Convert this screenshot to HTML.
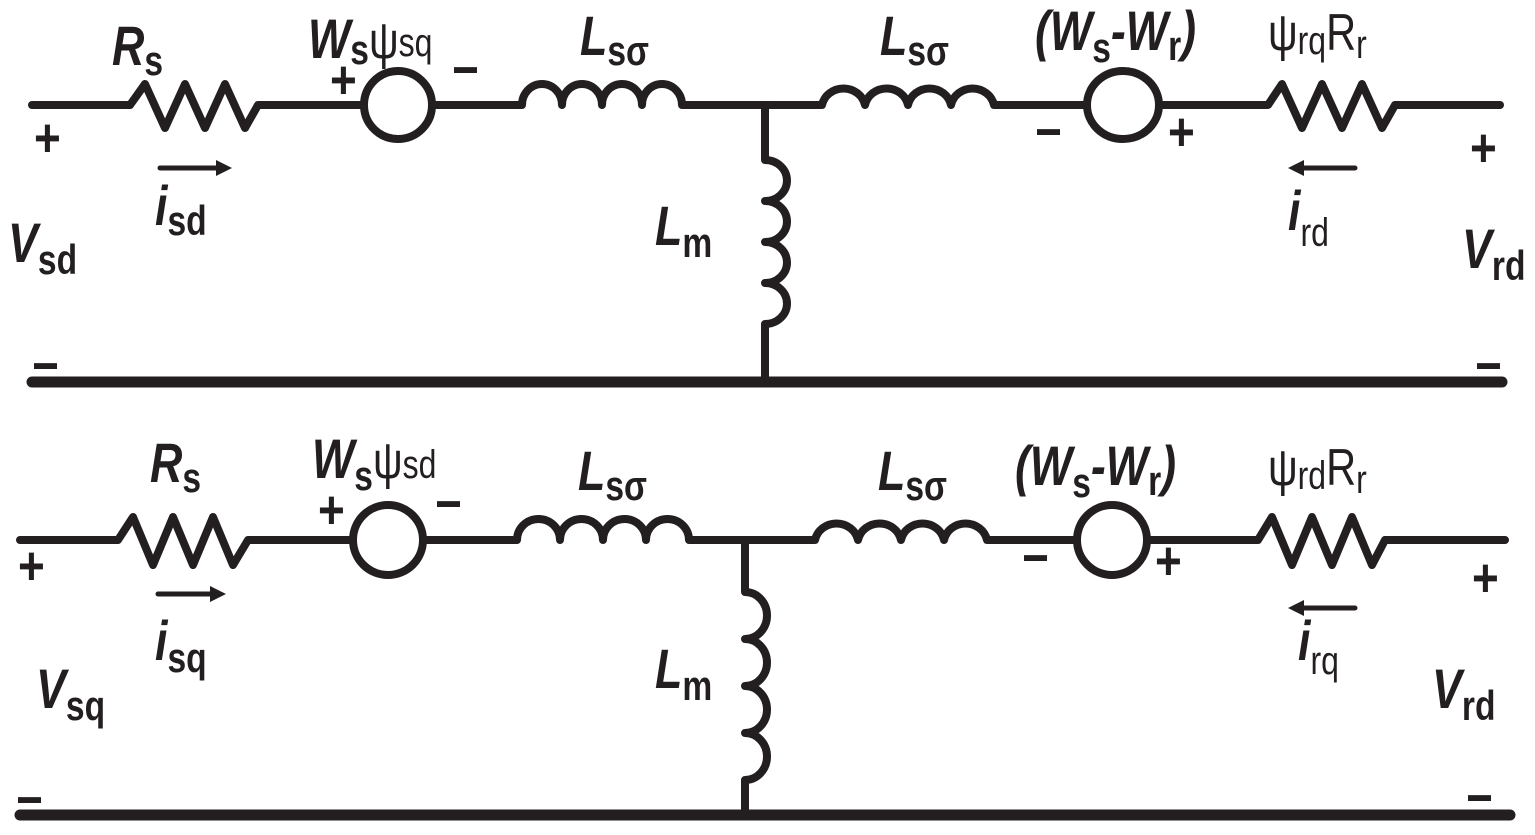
<!DOCTYPE html>
<html><head><meta charset="utf-8"><style>
html,body{margin:0;padding:0;background:#fff;width:1535px;height:835px;overflow:hidden}
svg{display:block}
text{font-family:"Liberation Sans",sans-serif;fill:#231f20}
.b{font-weight:bold;font-style:italic;font-size:56px}
.s{font-weight:bold;font-style:normal;font-size:42px}
.n{font-weight:normal;font-style:normal;font-size:52px}
.ns{font-weight:normal;font-style:normal;font-size:40px}
.p{font-weight:bold;font-size:54px}
</style></head><body>
<svg width="1535" height="835" viewBox="0 0 1535 835" xmlns="http://www.w3.org/2000/svg">
<g fill="none" stroke="#231f20" stroke-width="8" stroke-linejoin="round" stroke-linecap="round">
<path d="M32,105 H130 L145,84 L165,128 L185,84 L205,128 L225,84 L245,128 L258,105 H363"/>
<ellipse cx="398" cy="105" rx="34" ry="34"/>
<path d="M432,105 H522 a20,21 0 0 1 40,0 a20,21 0 0 1 40,0 a20,21 0 0 1 40,0 a20,21 0 0 1 40,0 H822 a22,21 0 0 1 43,0 a22,21 0 0 1 43,0 a22,21 0 0 1 43,0 a22,21 0 0 1 43,0 H1087"/>
<ellipse cx="1123" cy="105" rx="36" ry="34"/>
<path d="M1159,105 H1268 L1282,84 L1302,128 L1322,84 L1342,128 L1362,84 L1382,128 L1395,105 H1500"/>
<path d="M765,105 V160 a22,20.5 0 0 1 0,41 a22,20.5 0 0 1 0,41 a22,20.5 0 0 1 0,41 a22,20.5 0 0 1 0,41 V382"/>
<path d="M32,382 H1502" stroke-width="11"/>
<path d="M160,168 H218" stroke-width="5"/>
<path d="M1300,168 H1355" stroke-width="5"/>
<path d="M20,540 H118 L133,517 L153,565 L173,517 L193,565 L213,517 L233,565 L248,540 H353"/>
<ellipse cx="388" cy="540" rx="35" ry="35"/>
<path d="M423,540 H517 a21.5,21 0 0 1 43,0 a21.5,21 0 0 1 43,0 a21.5,21 0 0 1 43,0 a21.5,21 0 0 1 43,0 H815 a22,21 0 0 1 43,0 a22,21 0 0 1 43,0 a22,21 0 0 1 43,0 a22,21 0 0 1 43,0 H1077"/>
<ellipse cx="1112" cy="540" rx="35" ry="35"/>
<path d="M1147,540 H1258 L1272,517 L1292,565 L1312,517 L1332,565 L1352,517 L1372,565 L1385,540 H1505"/>
<path d="M745,540 V592 a22,23.5 0 0 1 0,47 a22,23.5 0 0 1 0,47 a22,23.5 0 0 1 0,47 a22,23.5 0 0 1 0,47 V815"/>
<path d="M20,815 H1510" stroke-width="11"/>
<path d="M158,594 H212" stroke-width="5"/>
<path d="M1300,608 H1355" stroke-width="5"/>
</g>
<g fill="#231f20">
<polygon points="232,168 216,160 216,176"/>
<polygon points="1288,168 1304,160 1304,176"/>
<polygon points="226,594 210,586 210,602"/>
<polygon points="1288,608 1304,600 1304,616"/>
</g>
<g transform="translate(112,65) scale(.8,1)"><text class="b">R<tspan class="s" dy="10">s</tspan></text></g>
<g transform="translate(308,58) scale(.8,1)"><text class="b">W<tspan class="s" dy="6">s</tspan><tspan class="n" dy="-6" font-size="58">ψ</tspan><tspan class="ns" dy="-2">sq</tspan></text></g>
<g transform="translate(330,98) scale(.85,1)"><text class="p">+</text></g>
<g transform="translate(452,88) scale(.85,1)"><text class="p">−</text></g>
<g transform="translate(580,55) scale(.8,1)"><text class="b">L<tspan class="s" dy="10">sσ</tspan></text></g>
<g transform="translate(880,55) scale(.8,1)"><text class="b">L<tspan class="s" dy="10">sσ</tspan></text></g>
<g transform="translate(1035,50) scale(.8,1)"><text class="b">(W<tspan class="s" dy="12">s</tspan><tspan dy="-12">-W</tspan><tspan class="s" dy="10">r</tspan><tspan dy="-10">)</tspan></text></g>
<g transform="translate(1268,50) scale(.8,1)"><text class="n">ψ<tspan class="ns" dy="4">rq</tspan><tspan dy="-4">R</tspan><tspan class="ns" dy="8">r</tspan></text></g>
<g transform="translate(34,156) scale(.85,1)"><text class="p">+</text></g>
<g transform="translate(155,225) scale(.8,1)"><text class="b">i<tspan class="s" dy="10">sd</tspan></text></g>
<g transform="translate(8,262) scale(.8,1)"><text class="b">V<tspan class="s" dy="12">sd</tspan></text></g>
<g transform="translate(655,245) scale(.8,1)"><text class="b">L<tspan class="s" dy="12">m</tspan></text></g>
<g transform="translate(1035,150) scale(.85,1)"><text class="p">−</text></g>
<g transform="translate(1168,150) scale(.85,1)"><text class="p">+</text></g>
<g transform="translate(1288,230) scale(.8,1)"><text class="b">i<tspan class="ns" dy="16">rd</tspan></text></g>
<g transform="translate(1470,166) scale(.85,1)"><text class="p">+</text></g>
<g transform="translate(1462,268) scale(.8,1)"><text class="b">V<tspan class="s" dy="12">rd</tspan></text></g>
<g transform="translate(32,384) scale(.85,1)"><text class="p">−</text></g>
<g transform="translate(1475,384) scale(.85,1)"><text class="p">−</text></g>
<g transform="translate(150,482) scale(.8,1)"><text class="b">R<tspan class="s" dy="10">s</tspan></text></g>
<g transform="translate(312,478) scale(.8,1)"><text class="b">W<tspan class="s" dy="12">s</tspan><tspan class="n" dy="-12" font-size="58">ψ</tspan><tspan class="ns" dy="0">sd</tspan></text></g>
<g transform="translate(318,528) scale(.85,1)"><text class="p">+</text></g>
<g transform="translate(435,522) scale(.85,1)"><text class="p">−</text></g>
<g transform="translate(578,490) scale(.8,1)"><text class="b">L<tspan class="s" dy="10">sσ</tspan></text></g>
<g transform="translate(878,490) scale(.8,1)"><text class="b">L<tspan class="s" dy="10">sσ</tspan></text></g>
<g transform="translate(1015,485) scale(.8,1)"><text class="b">(W<tspan class="s" dy="12">s</tspan><tspan dy="-12">-W</tspan><tspan class="s" dy="10">r</tspan><tspan dy="-10">)</tspan></text></g>
<g transform="translate(1268,485) scale(.8,1)"><text class="n">ψ<tspan class="ns" dy="4">rd</tspan><tspan dy="-4">R</tspan><tspan class="ns" dy="8">r</tspan></text></g>
<g transform="translate(18,584) scale(.85,1)"><text class="p">+</text></g>
<g transform="translate(155,660) scale(.8,1)"><text class="b">i<tspan class="s" dy="12">sq</tspan></text></g>
<g transform="translate(36,708) scale(.8,1)"><text class="b">V<tspan class="s" dy="12">sq</tspan></text></g>
<g transform="translate(655,688) scale(.8,1)"><text class="b">L<tspan class="s" dy="12">m</tspan></text></g>
<g transform="translate(1022,576) scale(.85,1)"><text class="p">−</text></g>
<g transform="translate(1155,579) scale(.85,1)"><text class="p">+</text></g>
<g transform="translate(1298,660) scale(.8,1)"><text class="b">i<tspan class="ns" dy="14">rq</tspan></text></g>
<g transform="translate(1472,596) scale(.85,1)"><text class="p">+</text></g>
<g transform="translate(1432,708) scale(.8,1)"><text class="b">V<tspan class="s" dy="12">rd</tspan></text></g>
<g transform="translate(16,818) scale(.85,1)"><text class="p">−</text></g>
<g transform="translate(1466,816) scale(.85,1)"><text class="p">−</text></g>
</svg>
</body></html>
